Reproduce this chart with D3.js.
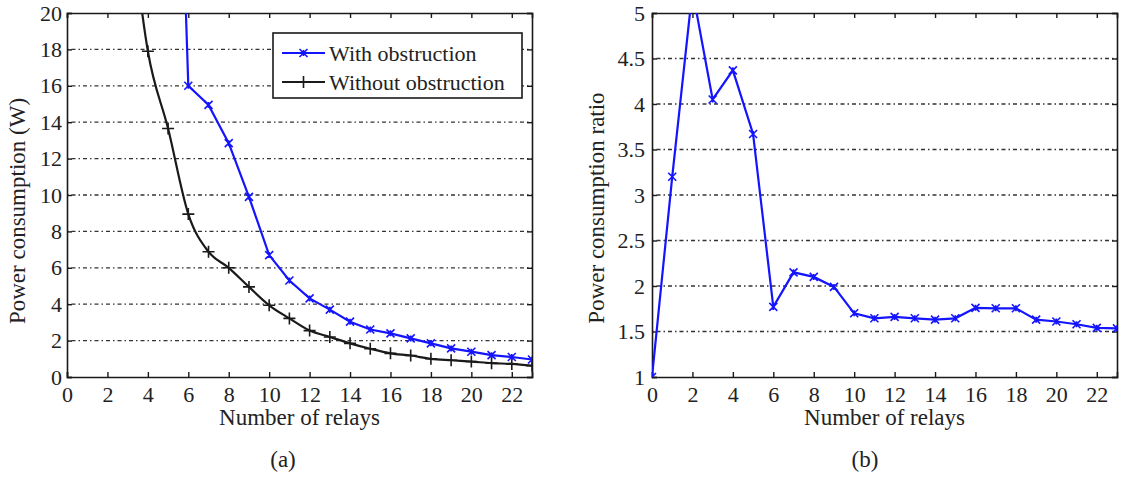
<!DOCTYPE html>
<html>
<head>
<meta charset="utf-8">
<script src="https://cdn.jsdelivr.net/npm/d3@7"></script>
<style>
  body { margin: 0; background: #fff; }
  svg { display: block; }
  text { font-family: "Liberation Serif", "DejaVu Serif", serif; fill: #222; }
</style>
</head>
<body>
<svg id="svg" width="1121" height="482"></svg>
<script>
// relays on the x axis
var xTicks = [0, 2, 4, 6, 8, 10, 12, 14, 16, 18, 20, 22]
var powerTicks = [0, 2, 4, 6, 8, 10, 12, 14, 16, 18, 20]
var ratioTicks = [1, 1.5, 2, 2.5, 3, 3.5, 4, 4.5, 5]

// (a) with obstruction, the first point goes far above the frame
var withRelays = [5, 6, 7, 8, 9, 10, 11, 12, 13, 14, 15, 16, 17, 18, 19, 20, 21, 22, 23]
var withPower = [50, 16.0, 14.95, 12.85, 9.9, 6.7, 5.3, 4.32, 3.7, 3.04, 2.61, 2.4, 2.12, 1.85, 1.57, 1.39, 1.2, 1.1, 0.96]

// (a) without obstruction
var withoutRelays = [3, 4, 5, 6, 7, 8, 9, 10, 11, 12, 13, 14, 15, 16, 17, 18, 19, 20, 21, 22, 23]
var withoutPower = [26.6, 17.9, 13.65, 8.95, 6.88, 6.0, 4.95, 3.94, 3.22, 2.55, 2.2, 1.85, 1.55, 1.3, 1.18, 1.0, 0.92, 0.85, 0.76, 0.72, 0.62]

// (b) ratio of the two
var ratioRelays = [0, 1, 2, 3, 4, 5, 6, 7, 8, 9, 10, 11, 12, 13, 14, 15, 16, 17, 18, 19, 20, 21, 22, 23]
var ratioValues = [1.0, 3.2, 5.25, 4.05, 4.37, 3.67, 1.77, 2.15, 2.1, 1.99, 1.7, 1.645, 1.66, 1.645, 1.63, 1.645, 1.76, 1.755, 1.755, 1.63, 1.61, 1.58, 1.54, 1.535]

var legendNames = ["With obstruction", "Without obstruction"]

var svg = d3.select("svg")
var blue = "#1414ff", black = "#1a1a1a"
var w = 465, h = 364

function zip(xs, ys) { return xs.map(function(x, i) { return { x: x, y: ys[i] } }) }

// one framed panel with inward ticks and dash-dot grid
function panel(left, yDomain, yTicks, yPad, id) {
  var g = svg.append("g").attr("transform", "translate(" + left + ",13)")
  var x = d3.scaleLinear().domain([0, 23]).range([0, w])
  var y = d3.scaleLinear().domain(yDomain).range([h, 0])

  g.append("clipPath").attr("id", id).append("rect").attr("width", w).attr("height", h)

  g.append("g").selectAll("line")
    .data(yTicks.filter(function(t) { return t > yDomain[0] && t < yDomain[1] }))
    .enter().append("line")
    .attr("x1", 0).attr("x2", w)
    .attr("y1", function(d) { return y(d) }).attr("y2", function(d) { return y(d) })
    .attr("stroke", "#333").attr("stroke-width", 1.3)
    .attr("stroke-dasharray", "1.5,3,4,3")

  var fmt = function(d) { return String(d) }
  g.append("g").attr("transform", "translate(0," + h + ")")
    .call(d3.axisBottom(x).tickValues(xTicks).tickSize(-5).tickPadding(9).tickFormat(fmt))
  g.append("g").call(d3.axisTop(x).tickValues(xTicks).tickSize(-5).tickFormat(""))
  g.append("g").call(d3.axisLeft(y).tickValues(yTicks).tickSize(-5).tickPadding(yPad).tickFormat(fmt))
  g.append("g").attr("transform", "translate(" + w + ",0)")
    .call(d3.axisRight(y).tickValues(yTicks).tickSize(-5).tickFormat(""))

  g.selectAll(".domain").attr("stroke", black).attr("stroke-width", 1.6)
  g.selectAll(".tick line").attr("stroke", black).attr("stroke-width", 1.4)
  g.selectAll(".tick text").attr("font-size", 22).attr("fill", "#222")
    .style("font-family", "'Liberation Serif', serif")

  g.append("text").attr("x", w / 2).attr("y", 412).attr("text-anchor", "middle")
    .attr("font-size", 23).text("Number of relays")

  return { g: g, x: x, y: y, id: id }
}

function series(p, pts, color, curve, marker) {
  var line = d3.line().x(function(d) { return p.x(d.x) }).y(function(d) { return p.y(d.y) }).curve(curve)
  var s = p.g.append("g").attr("clip-path", "url(#" + p.id + ")")
  s.append("path").datum(pts).attr("d", line)
    .attr("fill", "none").attr("stroke", color).attr("stroke-width", 2.2)
  s.selectAll("path.m").data(pts).enter().append("path")
    .attr("class", "m")
    .attr("transform", function(d) { return "translate(" + p.x(d.x) + "," + p.y(d.y) + ")" })
    .attr("d", marker)
    .attr("stroke", color).attr("stroke-width", 1.6).attr("fill", "none")
}

var cross = "M-4,-4L4,4M-4,4L4,-4M0,-3L0,3"
var plus = "M-6,0L6,0M0,-6L0,6"

// (a)
var a = panel(67, [0, 20], powerTicks, 5, "clipA")
series(a, zip(withoutRelays, withoutPower), black, d3.curveMonotoneX, plus)
series(a, zip(withRelays, withPower), blue, d3.curveLinear, cross)

svg.append("text").attr("transform", "translate(25,211) rotate(-90)")
  .attr("text-anchor", "middle").attr("font-size", 23).text("Power consumption (W)")
svg.append("text").attr("x", 283).attr("y", 467).attr("text-anchor", "middle")
  .attr("font-size", 23).text("(a)")

// legend
var lg = svg.append("g").attr("transform", "translate(273,33)")
lg.append("rect").attr("width", 249).attr("height", 65)
  .attr("fill", "#fff").attr("stroke", black).attr("stroke-width", 1.6)
var items = lg.selectAll("g.item").data(legendNames).enter().append("g")
  .attr("class", "item")
  .attr("transform", function(d, i) { return "translate(0," + (20 + i * 29) + ")" })
items.append("line").attr("x1", 9).attr("x2", 52)
  .attr("stroke", function(d, i) { return i ? black : blue }).attr("stroke-width", 2.2)
items.append("path").attr("transform", "translate(30.5,0)")
  .attr("d", function(d, i) { return i ? plus : cross })
  .attr("stroke", function(d, i) { return i ? black : blue }).attr("stroke-width", 1.6)
items.append("text").attr("x", 56).attr("dy", "0.35em").attr("font-size", 22).text(function(d) { return d })

// (b)
var b = panel(652, [1, 5], ratioTicks, 7, "clipB")
series(b, zip(ratioRelays, ratioValues), blue, d3.curveLinear, cross)

svg.append("text").attr("transform", "translate(604,208) rotate(-90)")
  .attr("text-anchor", "middle").attr("font-size", 23).text("Power consumption ratio")
svg.append("text").attr("x", 865).attr("y", 467).attr("text-anchor", "middle")
  .attr("font-size", 23).text("(b)")
</script>
</body>
</html>
